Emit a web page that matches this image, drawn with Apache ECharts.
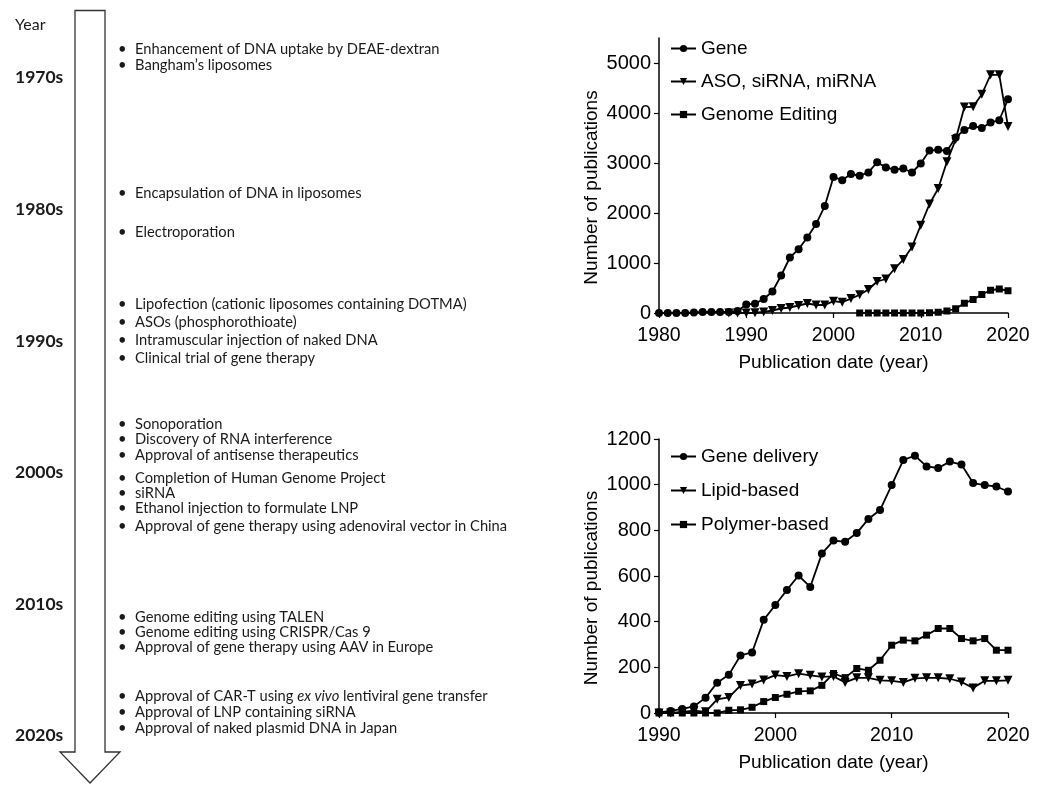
<!DOCTYPE html>
<html>
<head>
<meta charset="utf-8">
<script src="https://cdn.jsdelivr.net/npm/echarts@6.0.0/dist/echarts.min.js"></script>
<style>
  html, body { margin: 0; padding: 0; background: #fff; }
  #chart { width: 1044px; height: 785px; }
</style>
</head>
<body>
<div id="chart"></div>
<script>
// ---- timeline text ----
const decades = ['1970s', '1980s', '1990s', '2000s', '2010s', '2020s']
const events = [
  'Enhancement of DNA uptake by DEAE-dextran',
  'Bangham\u2019s liposomes',
  'Encapsulation of DNA in liposomes',
  'Electroporation',
  'Lipofection (cationic liposomes containing DOTMA)',
  'ASOs (phosphorothioate)',
  'Intramuscular injection of naked DNA',
  'Clinical trial of gene therapy',
  'Sonoporation',
  'Discovery of RNA interference',
  'Approval of antisense therapeutics',
  'Completion of Human Genome Project',
  'siRNA',
  'Ethanol injection to formulate LNP',
  'Approval of gene therapy using adenoviral vector in China',
  'Genome editing using TALEN',
  'Genome editing using CRISPR/Cas 9',
  'Approval of gene therapy using AAV in Europe',
  '{n|Approval of CAR-T using }{i|ex vivo}{n| lentiviral gene transfer}',
  'Approval of LNP containing siRNA',
  'Approval of naked plasmid DNA in Japan',
]

// ---- chart 1: publications 1980-2020 ----
const start1 = 1980
const gene = [0, 0, 0, 0, 10, 20, 20, 20, 20, 40,
  170, 187, 280, 430, 750, 1110, 1277, 1511, 1778, 2139,
  2720, 2657, 2780, 2745, 2812, 3015, 2912, 2866, 2890, 2810,
  2990, 3248, 3265, 3240, 3512, 3660, 3738, 3700, 3812, 3855,
  4276]
const startAso = 1988
const aso = [0, 0,
  0, 5, 20, 50, 90, 110, 150, 190, 160, 160,
  236, 215, 288, 365, 470, 630, 680, 885, 1068, 1322,
  1755, 2178, 2490, 3024, 3470, 4118, 4125, 4375, 4763, 4763,
  3728]
const startEdit = 2003
const editing = [0, 0, 0, 0, 0, 0, 0, 0, 5, 15, 40, 85, 195, 270, 370, 455, 480, 445]

// ---- chart 2: delivery publications 1990-2020 ----
const start2 = 1990
const delivery = [3, 9, 18, 29, 67, 133, 167, 252, 265, 408,
  473, 539, 602, 552, 698, 755, 750, 788, 850, 889,
  998, 1108, 1127, 1080, 1073, 1101, 1088, 1007, 998, 992,
  970]
const lipid = [0, 0, 5, 10, 5, 60, 68, 120, 127, 145,
  166, 160, 172, 165, 158, 160, 134, 154, 154, 143,
  141, 134, 152, 154, 154, 150, 136, 110, 141, 141,
  143]
const polymer = [0, 0, 0, 0, 0, 0, 12, 14, 25, 50,
  68, 82, 95, 97, 121, 173, 155, 195, 187, 231,
  297, 319, 316, 341, 370, 370, 326, 316, 326, 275,
  275]

const ticks1 = [0, 1000, 2000, 3000, 4000, 5000]
const ticks2 = [0, 200, 400, 600, 800, 1000, 1200]

function pairs(startYear, vals) {
  return vals.map((v, i) => [startYear + i, v])
}

// layout of the timeline (px)
const decadeY = [77, 209, 341, 472, 604, 735]
const eventY = [49, 65, 193, 232, 304, 322, 340, 358, 424, 439, 455, 478, 493, 508, 526, 617, 632, 647, 696, 712, 728]

const TXT = '#1a1a1a'
const SANS = '"Liberation Sans", Arial, sans-serif'
const BODY = 'Lato, "Noto Sans", sans-serif'
const FS = 14.7

const graphics = [
  {
    type: 'polygon',
    shape: {
      points: [[75, 10.5], [105, 10.5], [105, 752], [120, 752], [90, 783], [60, 752], [75, 752]],
    },
    style: { fill: '#fff', stroke: '#333', lineWidth: 1.3 },
  },
  {
    type: 'text', x: 15, y: 25,
    style: { text: 'Year', font: '16px ' + BODY, fill: TXT, verticalAlign: 'middle' },
  },
]
decades.forEach((d, i) => {
  graphics.push({
    type: 'text', x: 15, y: decadeY[i],
    style: { text: d, font: 'bold 17.5px ' + BODY, fill: TXT, verticalAlign: 'middle' },
  })
})
events.forEach((e, i) => {
  graphics.push({
    type: 'text', x: 118, y: eventY[i],
    style: { text: '\u2022', font: FS + 'px ' + BODY, fill: TXT, verticalAlign: 'middle' },
  })
  graphics.push({
    type: 'text', x: 135, y: eventY[i],
    style: {
      text: e,
      font: FS + 'px ' + BODY,
      fill: TXT,
      verticalAlign: 'middle',
      rich: {
        n: { fontSize: FS, fontFamily: BODY, color: TXT },
        i: { fontSize: FS, fontFamily: BODY, color: TXT, fontStyle: 'italic' },
      },
    },
  })
})

function xAxis(gridIndex, min) {
  return {
    type: 'value',
    gridIndex,
    min,
    max: 2020,
    interval: 10,
    name: 'Publication date (year)',
    nameLocation: 'middle',
    nameGap: 40,
    nameTextStyle: { color: '#000', fontSize: 19, fontFamily: SANS },
    axisLine: { lineStyle: { color: '#000', width: 1.5 } },
    axisTick: { length: 5, lineStyle: { color: '#000', width: 1.2 } },
    axisLabel: { color: '#000', fontSize: 19.5, fontFamily: SANS, margin: 13, formatter: (v) => String(v) },
    splitLine: { show: false },
  }
}

function yAxis(gridIndex, max, ticks) {
  return {
    type: 'value',
    gridIndex,
    min: 0,
    max,
    name: 'Number of publications',
    nameLocation: 'middle',
    nameGap: 58,
    nameTextStyle: { color: '#000', fontSize: 19, fontFamily: SANS, padding: [0, 24, 0, 0] },
    axisLine: { show: true, lineStyle: { color: '#000', width: 1.5 } },
    axisTick: { show: true, length: 5, customValues: ticks, lineStyle: { color: '#000', width: 1.2 } },
    axisLabel: {
      color: '#000', fontSize: 20, fontFamily: SANS, margin: 8,
      customValues: ticks, formatter: (v) => String(v),
    },
    splitLine: { show: false },
  }
}

function line(name, data, symbol, size, xi) {
  return {
    name,
    type: 'line',
    xAxisIndex: xi,
    yAxisIndex: xi,
    data,
    symbol,
    symbolSize: size,
    symbolRotate: symbol === 'triangle' ? 180 : 0,
    showAllSymbol: true,
    lineStyle: { color: '#000', width: 1.8 },
    itemStyle: { color: '#000' },
    emphasis: { disabled: true },
    animation: false,
  }
}

const legendBase = {
  orient: 'vertical',
  left: 670,
  padding: 0,
  itemWidth: 25,
  itemHeight: 9,
  itemGap: 14,
  textStyle: { color: '#000', fontSize: 19, fontFamily: SANS },
  selectedMode: false,
}

const chart = echarts.init(document.getElementById('chart'))
chart.setOption({
  backgroundColor: '#fff',
  animation: false,
  graphic: graphics,
  grid: [
    { left: 659, right: 36, top: 38, height: 275 },
    { left: 659, right: 36, top: 439, height: 274 },
  ],
  legend: [
    Object.assign({}, legendBase, { top: 39, data: ['Gene', 'ASO, siRNA, miRNA', 'Genome Editing'] }),
    Object.assign({}, legendBase, { top: 447, itemGap: 15, data: ['Gene delivery', 'Lipid-based', 'Polymer-based'] }),
  ],
  xAxis: [xAxis(0, 1980), xAxis(1, 1990)],
  yAxis: [yAxis(0, 5500, ticks1), yAxis(1, 1200, ticks2)],
  series: [
    line('Genome Editing', pairs(startEdit, editing), 'rect', 7, 0),
    line('ASO, siRNA, miRNA', pairs(startAso, aso), 'triangle', 9, 0),
    line('Gene', pairs(start1, gene), 'circle', 8, 0),
    line('Polymer-based', pairs(start2, polymer), 'rect', 7, 1),
    line('Lipid-based', pairs(start2, lipid), 'triangle', 9, 1),
    line('Gene delivery', pairs(start2, delivery), 'circle', 8, 1),
  ],
})
</script>
</body>
</html>
